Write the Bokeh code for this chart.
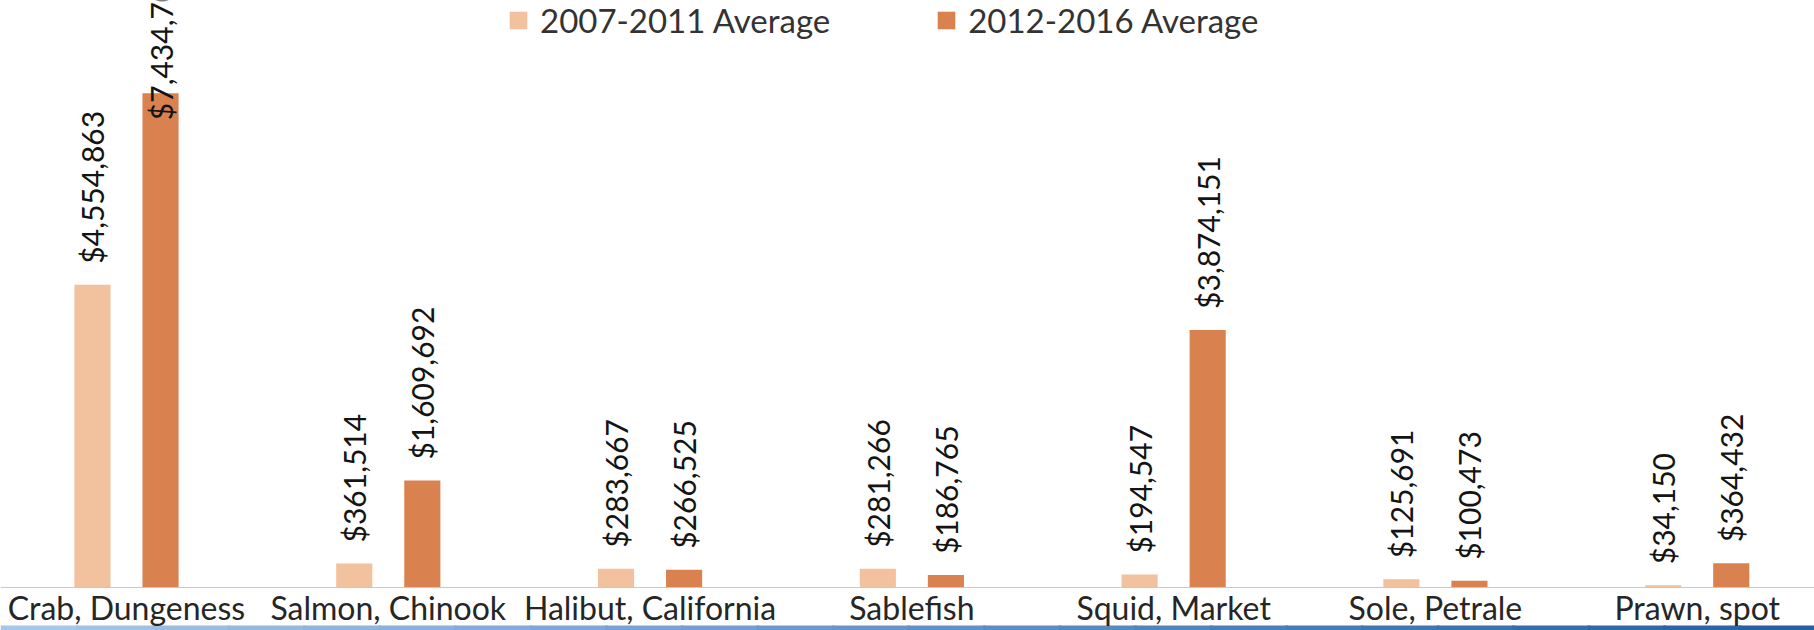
import numpy as np
from bokeh.plotting import figure
from bokeh.models import (ColumnDataSource, Range1d, FixedTicker, Legend,
                          LegendItem, BoxAnnotation)
from bokeh.embed import file_html
from bokeh.resources import INLINE
from bokeh.core.properties import value

# ---- data ----
categories = ["Crab, Dungeness", "Salmon, Chinook", "Halibut, California",
              "Sablefish", "Squid, Market", "Sole, Petrale", "Prawn, spot"]
series = ["2007-2011 Average", "2012-2016 Average"]
avg_2007_2011 = [4554863, 361514, 283667, 281266, 194547, 125691, 34150]
avg_2012_2016 = [7434700, 1609692, 266525, 186765, 3874151, 100473, 364432]
series_colors = ["#F2C19D", "#DA8150"]

# ---- layout constants ----
W, H = 1814, 630
BASE_PX = 587            # baseline distance from top of figure (px)
PX_PER_DOLLAR = 66.49e-6
OFFSET = 0.13            # dodge in category units
BAR_W = 0.138
FONT = "Lato"
X0, X1 = 0.0187, 6.948
LABEL_GAP = 21           # label gap above bar end (px)
LABEL_LEN = 160          # approx rotated label length (px)
INSIDE_OFF = 27          # inside-end placement when label would not fit

y_top = BASE_PX / PX_PER_DOLLAR
y_bot = -(H - BASE_PX) / PX_PER_DOLLAR

p = figure(width=W, height=H,
           x_range=Range1d(X0, X1), y_range=Range1d(y_bot, y_top),
           output_backend="svg", toolbar_location=None,
           y_axis_location=None, min_border=0,
           outline_line_color=None, background_fill_color="white",
           border_fill_color="white")
p.xgrid.visible = False
p.ygrid.visible = False

# bottom decorative band (gradient approximated by steps)
band_top = -(625 - BASE_PX) / PX_PER_DOLLAR
c0 = np.array([0xA4, 0xC8, 0xE9])
c1 = np.array([0x2A, 0x5F, 0xA2])
nsteps = 24
for k in range(nsteps):
    t = k / (nsteps - 1)
    c = (c0 + (c1 - c0) * t).astype(int)
    col = "#%02x%02x%02x" % tuple(c)
    left = X0 + (X1 - X0) * k / nsteps
    right = X0 + (X1 - X0) * (k + 1) / nsteps + 0.01
    p.add_layout(BoxAnnotation(top=band_top, left=left, right=right,
                               fill_color=col, fill_alpha=1.0,
                               line_color=None, level="underlay"))

idx = np.arange(len(categories)) + 0.5
renderers = []
for s, vals, col, off in zip(series, [avg_2007_2011, avg_2012_2016],
                             series_colors, [-OFFSET, OFFSET]):
    v = np.array(vals, dtype=float)
    fits = v * PX_PER_DOLLAR + LABEL_GAP + LABEL_LEN <= BASE_PX
    yoff = np.where(fits, -LABEL_GAP, INSIDE_OFF)
    src = ColumnDataSource(dict(
        x=idx + off, top=vals, yoff=yoff,
        label=["${:,}".format(x) for x in vals]))
    r = p.vbar(x="x", top="top", bottom=0, width=BAR_W, source=src,
               fill_color=col, line_color=None)
    renderers.append(r)
    p.text(x="x", y="top", text="label", source=src, angle=np.pi / 2,
           text_align="left", text_baseline="middle", y_offset="yoff",
           text_font=value(FONT), text_font_size="30px",
           text_color="#141414")

# x axis at baseline
ax = p.xaxis[0]
ax.fixed_location = 0
ax.ticker = FixedTicker(ticks=list(idx))
ax.major_label_overrides = {float(t): c for t, c in zip(idx, categories)}
ax.major_tick_line_color = None
ax.minor_tick_line_color = None
ax.axis_line_color = "#C8C8C8"
ax.axis_line_width = 1
ax.major_label_text_font = FONT
ax.major_label_text_font_size = "32px"
ax.major_label_text_color = "#262626"
ax.major_label_standoff = -6

legend = Legend(items=[LegendItem(label=s, renderers=[r])
                       for s, r in zip(series, renderers)],
                orientation="horizontal", location=(507, 590),
                border_line_color=None, background_fill_alpha=0,
                padding=0, margin=0, spacing=105, label_standoff=11,
                glyph_width=22, glyph_height=22,
                label_text_font=FONT, label_text_font_size="33px",
                label_text_color="#333333")
p.add_layout(legend)

open("out.html", "w").write(file_html(p, INLINE))
